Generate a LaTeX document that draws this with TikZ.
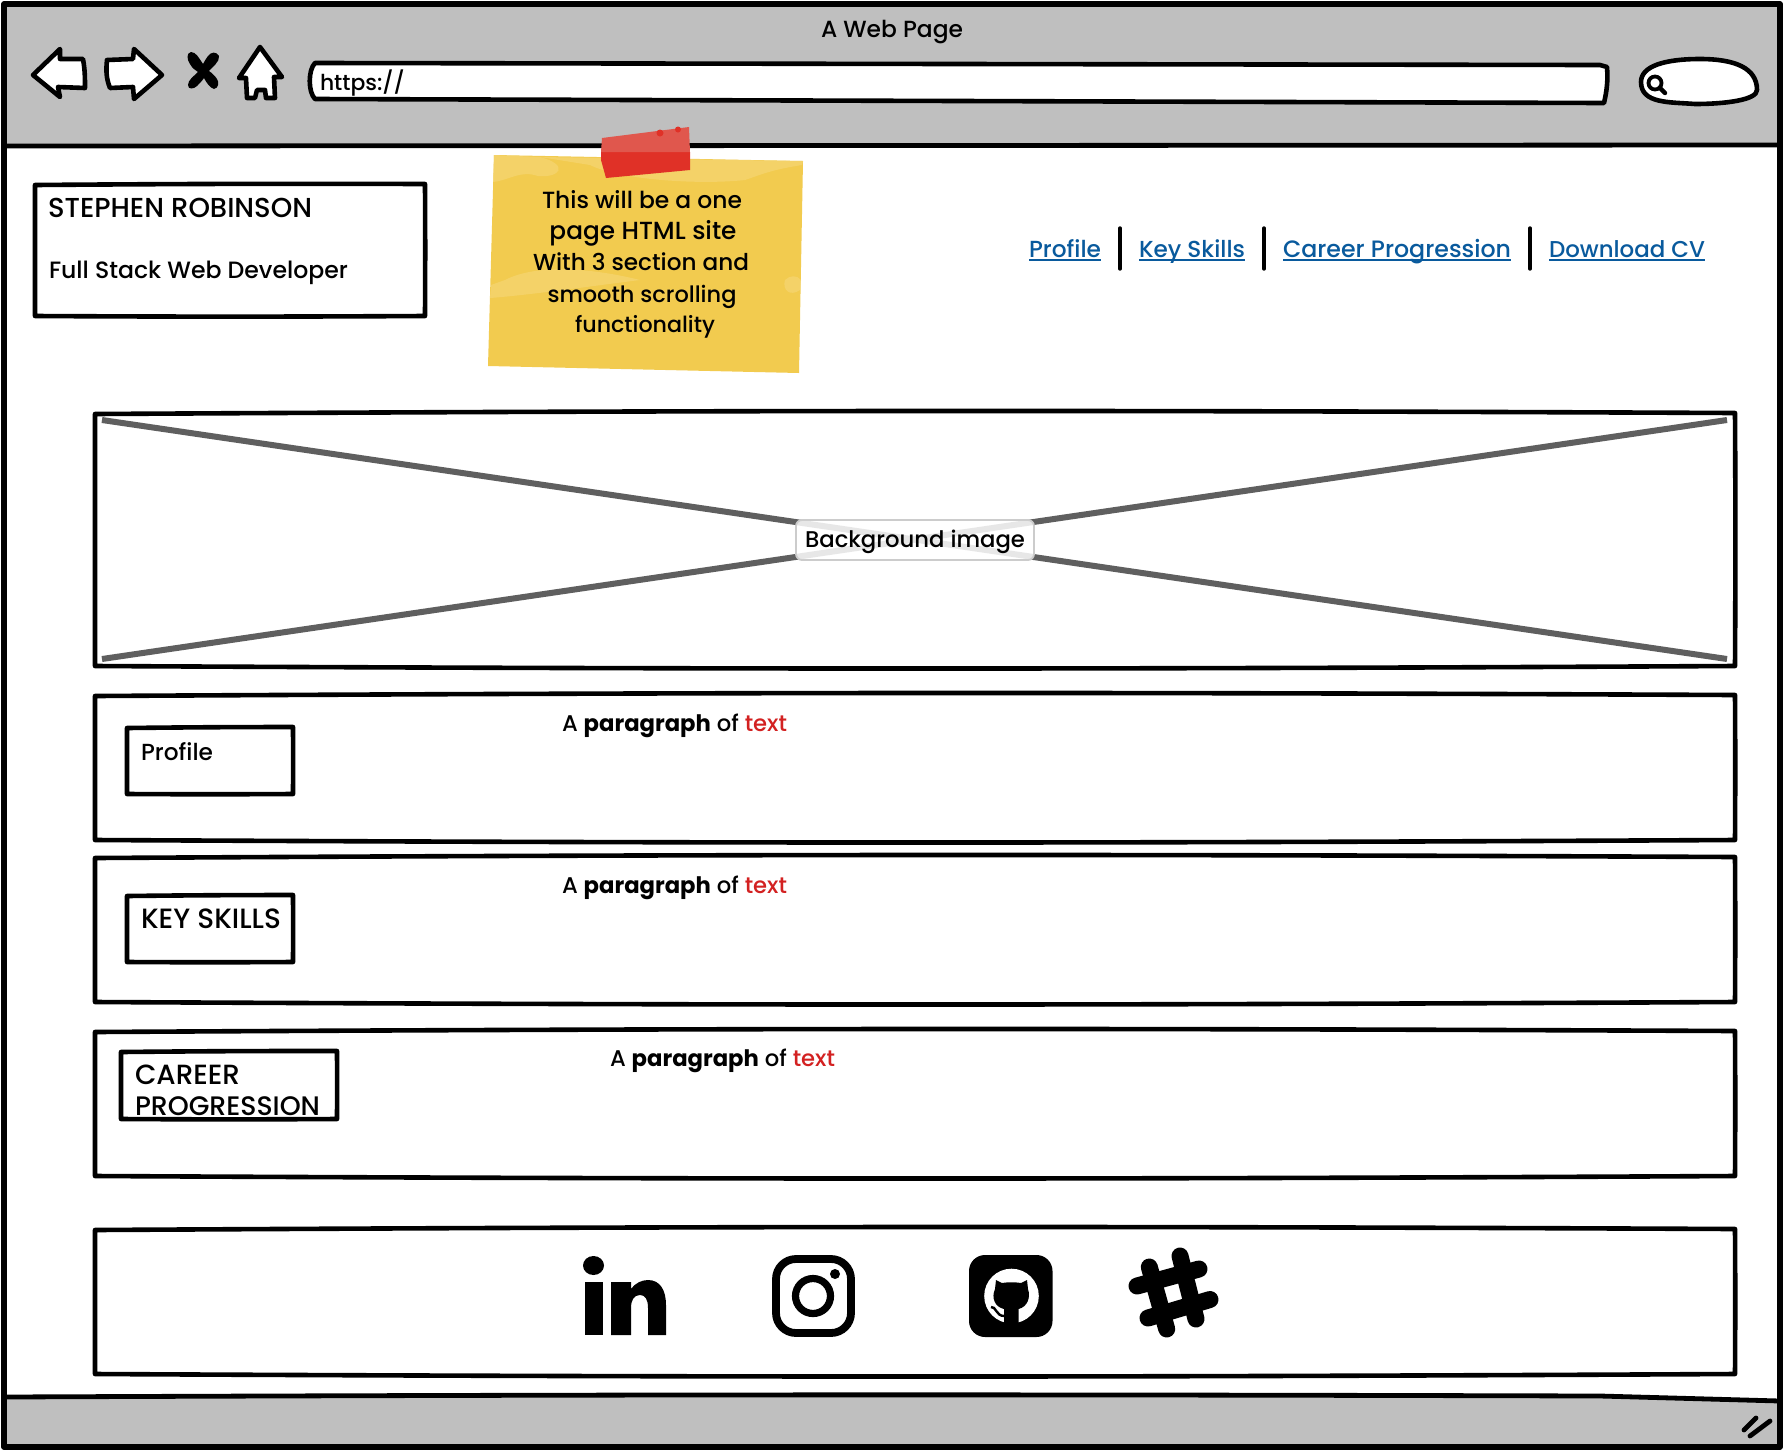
\documentclass[tikz,border=0pt]{standalone}
\usepackage{fontspec}
\usepackage{graphicx}
\setmainfont{Poppins}[UprightFont=* Medium,BoldFont=* Bold]
\usetikzlibrary{calc}
\definecolor{barc}{HTML}{BFBFBF}
\definecolor{linkc}{HTML}{095A9D}
\definecolor{crossc}{HTML}{5F5F5F}
\definecolor{stickyc}{HTML}{F2CB4F}
\definecolor{washc}{HTML}{F5D571}
\definecolor{tapeu}{HTML}{E0574D}
\definecolor{tapel}{HTML}{E03127}
\definecolor{redtxt}{HTML}{D32121}
\newcommand{\fw}[2]{\resizebox{\dimexpr #1pt/2\relax}{!}{#2}}
\newcommand{\skbox}[4]{\draw[sk] (#1,#2+1) to[bend left=.3] (#3,#2) to[bend left=.3] (#3,#4) to[bend left=.3] (#1,#4) -- cycle;}
\tikzset{
  sk/.style={line width=2.3pt,line join=round,line cap=round,black},
  txt/.style={inner sep=0pt,outer sep=0pt,anchor=base west,font=\normalsize},
  ctxt/.style={inner sep=0pt,outer sep=0pt,anchor=base,font=\normalsize},
  linktxt/.style={txt,text=linkc},
  ulink/.style={linkc,line width=.7pt},
  sep/.style={black,line width=1.7pt,line cap=round},
  icon/.style={fill=black,draw=none}
}
\begin{document}
\begin{tikzpicture}[x=0.5pt,y=-0.5pt]
\useasboundingbox (0,0) rectangle (1784,1452);
\fill[white] (0,0) rectangle (1784,1452);
% bars
\fill[barc] (4,4) rectangle (1780,145);
\fill[barc] (4,1397) -- (1600,1396) -- (1780,1401) -- (1780,1447) -- (4,1447) -- cycle;
% window
\draw[sk,line width=2.6pt] (4,4) -- (1780,4) -- (1780,1447) -- (4,1447) -- cycle;
\draw[sk,line width=2.4pt] (4,146) -- (1780,145);
\draw[sk,line width=2.4pt] (4,1397) to[bend left=.2] (1600,1396) -- (1780,1401);
% title
\node[txt] (title) at (821,37) {\fw{142}{A Web Page}};
% back/forward/stop/home
\draw[sk,fill=white] (33,75) -- (60,49) -- (60,59) -- (83,59) .. controls (85,70) and (85,78) .. (85,88) -- (58,87) -- (60,97) -- cycle;
\draw[sk,fill=white] (107,60) -- (133,59) -- (134,49) -- (162,75) -- (134,99) -- (133,87) -- (110,88) .. controls (106,78) and (106,70) .. (107,60);
\fill (203,64) .. controls (199,58) and (196,52) .. (191,52) .. controls (186,53) and (187,60) .. (190,64) .. controls (192,68) and (195,70) .. (198,72)
  .. controls (194,76) and (188,80) .. (188,85) .. controls (188,90) and (194,89) .. (197,86) .. controls (199,84) and (202,81) .. (204,78)
  .. controls (206,82) and (210,88) .. (214,89) .. controls (219,88) and (219,82) .. (217,79) .. controls (215,76) and (212,73) .. (209,71)
  .. controls (212,67) and (220,62) .. (219,56) .. controls (216,51) and (211,52) .. (208,56) .. controls (206,58) and (205,61) .. (203,64) -- cycle;
\draw[sk,fill=white] (260,47) -- (282,77) -- (274,77) -- (275,98) -- (266,98) -- (265,90) -- (257,90) -- (255,98) -- (247,98) -- (246,78) -- (239,78) -- cycle;
% url
\draw[sk,fill=white] (315,63) -- (1600,65) -- (1607,67) .. controls (1608,80) and (1607,90) .. (1604,103) -- (315,99) .. controls (308,92) and (308,70) .. (315,63) -- cycle;
\node[txt] (url) at (320,90) {\fw{85}{https://}};
% search
\draw[sk,fill=white] (1641,82) .. controls (1641,66) and (1665,59) .. (1700,59) .. controls (1735,59) and (1757,68) .. (1757,90) .. controls (1757,100) and (1725,104) .. (1695,104) .. controls (1670,102) and (1641,104) .. (1641,82) -- cycle;
\draw[line width=1.9pt,black] (1655,83) circle (6.5);
\draw[line width=2.2pt,line cap=round] (1660,88) -- (1665,93);
% name box
\skbox{35}{184}{425}{316}
\node[txt] (name) at (48,217) {\fw{264}{STEPHEN ROBINSON}};
\node[txt] (role) at (49,278) {\fw{299}{Full Stack Web Developer}};
% sticky
\fill[stickyc] (494,155) -- (803,161) -- (799,373) -- (488,366) -- cycle;
\fill[washc,fill opacity=.75] (494,155) -- (540,157) .. controls (570,165) and (560,178) .. (538,176) .. controls (520,170) and (510,180) .. (493,182) -- cycle;
\fill[washc,fill opacity=.75] (540,157) -- (803,161) -- (802,165) .. controls (770,170) and (760,175) .. (745,180) .. controls (700,185) and (620,180) .. (590,165) -- cycle;
\fill[washc,fill opacity=.75] (490,298) .. controls (530,295) and (600,285) .. (640,280) .. controls (600,270) and (540,262) .. (505,280) -- (491,285) -- cycle;
\fill[washc,fill opacity=.75] (785,280) .. controls (790,275) and (797,275) .. (801,280) -- (800,290) .. controls (790,297) and (782,290) .. (785,280) -- cycle;
% tape
\fill[tapel] (601,152) -- (690,152) -- (690,170) -- (606,178) -- (601,160) -- cycle;
\fill[tapeu] (602,138) -- (689,127) -- (690,152) -- (601,152) -- cycle;
\fill[tapel] (660,133) circle (3.5);
\fill[tapel] (678,129.5) circle (3);
\node[ctxt] (s1) at (642,208) {\fw{200}{This will be a one}};
\node[ctxt] (s2) at (643,239) {\fw{187}{page HTML site}};
\node[ctxt] (s3) at (641,270) {\fw{216}{With 3 section and}};
\node[ctxt] (s4) at (642,302) {\fw{189}{smooth scrolling}};
\node[ctxt] (s5) at (645,332) {\fw{140}{functionality}};
% nav
\node[linktxt] (l1) at (1029,257) {\fw{72}{Profile}};
\node[linktxt] (l2) at (1139,257) {\fw{106}{Key Skills}};
\node[linktxt] (l3) at (1283,257) {\fw{228}{Career Progression}};
\node[linktxt] (l4) at (1549,257) {\fw{156}{Download CV}};
\foreach \n in {l1,l2,l3,l4}{
  \draw[ulink] ($(\n.base west)+(0,3)$) -- ($(\n.base east)+(0,3)$);
}
\coordinate (s1a) at (1120,228); \coordinate (s1b) at (1120,269);
\coordinate (s2a) at (1264,228); \coordinate (s2b) at (1264,269);
\coordinate (s3a) at (1530,228); \coordinate (s3b) at (1530,269);
\draw[sep] (s1a) -- (s1b);
\draw[sep] (s2a) -- (s2b);
\draw[sep] (s3a) -- (s3b);
% background image
\skbox{95}{413}{1735}{666}
\draw[crossc,line width=3pt] (102,420) -- (1727,659);
\draw[crossc,line width=3pt] (1727,420) -- (102,659);
\fill[white,fill opacity=.85,draw=black!20,draw opacity=1,line width=.9pt,rounded corners=3pt] (796,520) rectangle (1034,560);
\node[txt] (bg) at (805,547) {\fw{220}{Background image}};
% sections
\skbox{95}{695}{1735}{840}
\skbox{95}{857}{1735}{1002}
\skbox{95}{1031}{1735}{1176}
\skbox{95}{1229}{1735}{1374}
\skbox{127}{727}{293}{794}
\skbox{127}{895}{293}{962}
\skbox{121}{1051}{337}{1119}
\node[txt] (p) at (141,760) {\fw{72}{Profile}};
\node[txt] (k) at (141,928) {\fw{140}{KEY SKILLS}};
\node[txt] (c1) at (135,1084) {\fw{105}{CAREER}};
\node[txt] (c2) at (135,1115) {\fw{185}{PROGRESSION}};
\node[txt] (t1) at (562,731) {\fw{225}{A \textbf{paragraph} of \textcolor{redtxt}{text}}};
\node[txt] (t2) at (562,893) {\fw{225}{A \textbf{paragraph} of \textcolor{redtxt}{text}}};
\node[txt] (t3) at (610,1066) {\fw{225}{A \textbf{paragraph} of \textcolor{redtxt}{text}}};
% linkedin
\fill (593.5,1265.5) ellipse (10.5 and 9.5);
\fill (585,1282) rectangle (602.5,1335);
\fill (611,1282) -- (631,1282) -- (631,1289) .. controls (635,1283) and (642,1280) .. (648,1280) .. controls (660,1280) and (666,1290) .. (666,1305) -- (666,1335) -- (648,1335) -- (648,1308) .. controls (648,1299) and (645,1295) .. (640,1295) .. controls (634,1295) and (631,1300) .. (631,1308) -- (631,1335) -- (611,1335) -- cycle;
% instagram
\draw[line width=3.9pt,rounded corners=10pt] (776,1259) rectangle (851,1333);
\draw[line width=3.6pt] (813,1296) circle (17.5);
\fill (835,1274) circle (5);
% github
\fill[rounded corners=8pt] (969,1255) rectangle (1052.5,1337);
\fill[white] (1011.5,1296) circle (27.3);
\fill (996,1280) -- (1002,1283) .. controls (1008,1282) and (1015,1282) .. (1021,1283) -- (1027,1280) -- (1028,1289) .. controls (1031,1298) and (1027,1307) .. (1018.5,1309) -- (1018.5,1325) -- (1004,1325) -- (1004,1309) .. controls (995,1307) and (991,1298) .. (995,1289) -- cycle;
\draw[line width=1.2pt] (991,1307) .. controls (996,1306) and (996,1316) .. (1004,1316);
% slack hash
\draw[line width=8.5pt,line cap=round] (1149.3,1267) -- (1166.7,1329);
\draw[line width=8.5pt,line cap=round] (1180,1256) -- (1196,1319);
\draw[line width=8.5pt,line cap=round] (1137,1286) -- (1199,1269);
\draw[line width=8.5pt,line cap=round] (1148,1318) -- (1210,1299.5);
% resize mark
\draw[line width=2.4pt,line cap=round] (1744,1430) -- (1756,1418);
\draw[line width=2.4pt,line cap=round] (1750,1436) -- (1770,1421);
\end{tikzpicture}
\end{document}
